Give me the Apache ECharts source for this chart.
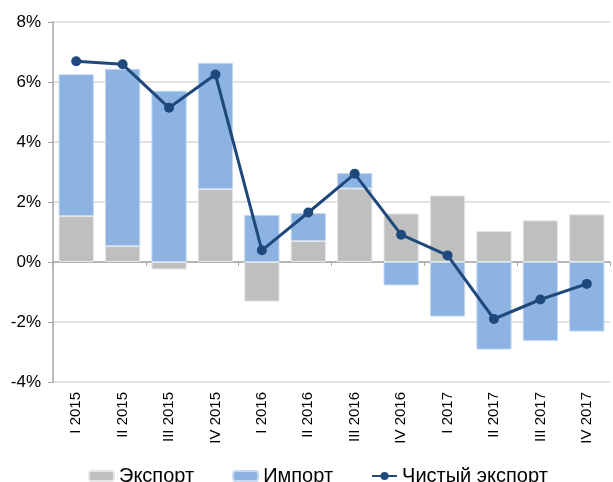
<!DOCTYPE html>
<html>
<head>
<meta charset="utf-8">
<script src="https://cdn.jsdelivr.net/npm/echarts@6/dist/echarts.min.js"></script>
<style>
html,body{margin:0;padding:0;background:#fff;}
#main{width:613px;height:482px;}
</style>
</head>
<body>
<div id="main"></div>
<script>
// кварталы
var quarters = ['I 2015','II 2015','III 2015','IV 2015','I 2016','II 2016','III 2016','IV 2016','I 2017','II 2017','III 2017','IV 2017'];
// вклад, п.п.
var exportVals = [1.53, 0.53, -0.25, 2.43, -1.32, 0.70, 2.45, 1.62, 2.22, 1.03, 1.39, 1.59];
var importVals = [4.73, 5.91, 5.71, 4.21, 1.57, 0.93, 0.52, -0.78, -1.82, -2.92, -2.63, -2.32];
var netVals = [6.69, 6.59, 5.14, 6.25, 0.39, 1.65, 2.94, 0.91, 0.22, -1.90, -1.25, -0.73];

var myChart = echarts.init(document.getElementById('main'));
var option;
option = {
	animation: false,
	textStyle: { fontFamily: 'Liberation Sans, Arial, sans-serif' },
	grid: { left: 53, right: 3, top: 22, bottom: 100 },
	legend: {
		top: 461,
		left: 83,
		itemWidth: 25,
		itemHeight: 10,
		itemGap: 38,
		textStyle: { fontSize: 20, color: '#000' },
		data: ['Экспорт', 'Импорт', 'Чистый экспорт']
	},
	xAxis: [{
		type: 'category',
		data: quarters,
		axisLine: { onZero: true, lineStyle: { color: '#A6A6A6', width: 1.5 } },
		axisTick: { show: true, length: 4, lineStyle: { color: '#A6A6A6' } },
		axisLabel: { show: false }
	}, {
		type: 'category',
		data: quarters,
		position: 'bottom',
		axisLine: { show: false },
		axisTick: { show: false },
		axisLabel: { rotate: 90, fontSize: 15, color: '#000', margin: 10 }
	}],
	yAxis: {
		type: 'value',
		min: -4,
		max: 8,
		interval: 2,
		axisLine: { show: true, lineStyle: { color: '#A6A6A6', width: 1.5 } },
		axisTick: { show: true, inside: false, length: 5, lineStyle: { color: '#A6A6A6' } },
		axisLabel: { formatter: '{value}%', fontSize: 17, color: '#000', margin: 12 },
		splitLine: { lineStyle: { color: '#D9D9D9', width: 1.5 } }
	},
	series: [{
		name: 'Экспорт',
		type: 'bar',
		stack: 'total',
		barCategoryGap: '24%',
		itemStyle: { color: '#BFBFBF', borderColor: '#E6E6E6', borderWidth: 1 },
		data: exportVals
	}, {
		name: 'Импорт',
		type: 'bar',
		stack: 'total',
		itemStyle: { color: '#8DB3E2', borderColor: '#C6D9F1', borderWidth: 1 },
		data: importVals
	}, {
		name: 'Чистый экспорт',
		type: 'line',
		symbol: 'circle',
		symbolSize: 10,
		lineStyle: { color: '#1F497D', width: 3 },
		itemStyle: { color: '#1F497D' },
		data: netVals
	}]
};
option && myChart.setOption(option);
</script>
</body>
</html>
